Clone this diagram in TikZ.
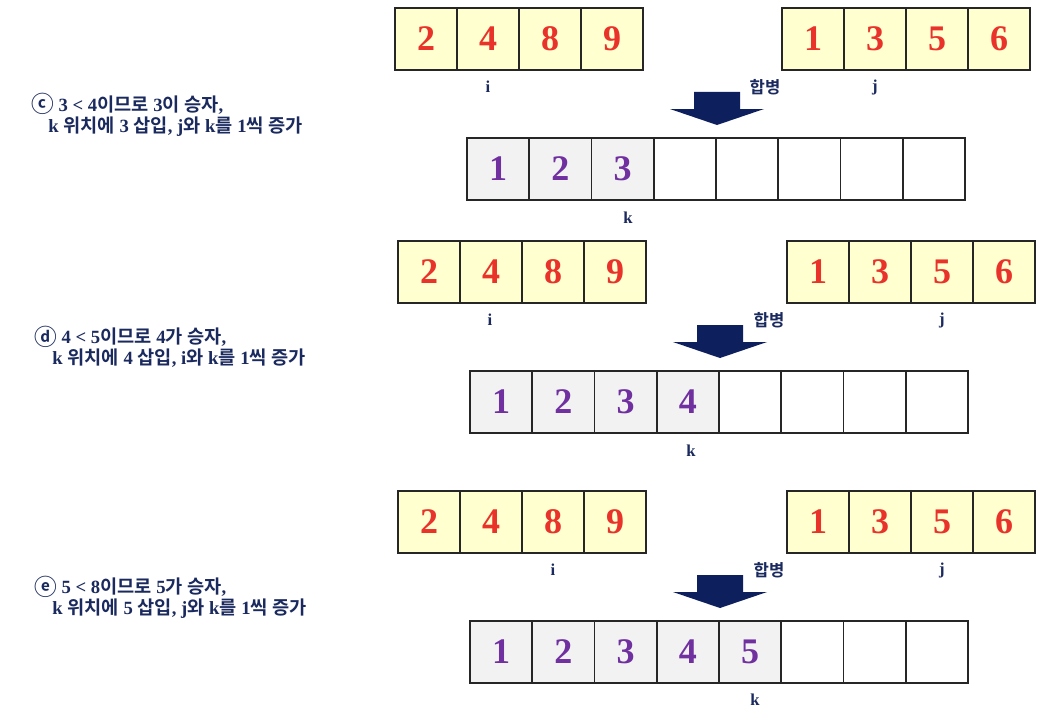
\documentclass[tikz,border=0pt]{standalone}
\usepackage{fontspec}
\setmainfont{Liberation Serif}
\newfontfamily\kr{Noto Sans CJK KR}[BoldFont={Noto Sans CJK KR Bold}]
\newcommand\K[1]{{\kr\bfseries #1}}
\newcommand\C[1]{\raisebox{-1.5pt}{\kr\bfseries\fontsize{17}{17}\selectfont #1}}
\definecolor{navy}{HTML}{1B2A5E}
\definecolor{numred}{HTML}{E8322A}
\definecolor{numpurple}{HTML}{7030A0}
\definecolor{cellyellow}{HTML}{FFFFD0}
\definecolor{cellgrey}{HTML}{F2F2F2}
\definecolor{arrownavy}{HTML}{0D1F5C}
\definecolor{cellborder}{HTML}{262626}
\tikzset{
  cell/.style={draw=cellborder, line width=1.3pt, minimum height=46.5pt, inner sep=0pt, outer sep=0pt, font=\fontsize{27}{27}\selectfont\bfseries},
  topcell/.style={cell, fill=cellyellow, text=numred, minimum width=46.5pt},
  fullcell/.style={cell, fill=cellgrey, text=numpurple, minimum width=46.7pt},
  freecell/.style={cell, fill=white, minimum width=46.7pt},
  lbl/.style={text=navy, font=\fontsize{12.5}{12.5}\selectfont\bfseries, inner sep=0pt},
  note/.style={text=navy, font=\fontsize{14}{14}\selectfont\bfseries, anchor=base west, inner sep=0pt},
}
\newcommand\toprow[4]{\foreach \v [count=\n] in {#4} {\node[topcell] (#1\n) at ({#2+(\n-0.5)*62},{#3+31}) {\v};}}
\newcommand\outrow[4]{\foreach \n in {1,...,8} {\ifnum\n>#4\relax \node[freecell] (#1\n) at ({#2+(\n-0.5)*62.25},{#3+31}) {};\else \node[fullcell] (#1\n) at ({#2+(\n-0.5)*62.25},{#3+31}) {\n};\fi}}
\newcommand\mergearrow[2]{\fill[arrownavy] ({#1-23},#2) -- ({#1+23},#2) -- ({#1+23},{#2+17}) -- ({#1+47},{#2+17}) -- (#1,{#2+33}) -- ({#1-47},{#2+17}) -- ({#1-23},{#2+17}) -- cycle;}
\begin{document}
\begin{tikzpicture}[x=0.75pt,y=-0.75pt]
\useasboundingbox[fill=white] (0,0) rectangle (1056,724);
% block c
\toprow{al}{395}{8}{2,4,8,9}
\toprow{ar}{782}{8}{1,3,5,6}
\outrow{ao}{467}{138}{3}
\node[lbl] (ai) at (488,87) {i};
\node[lbl] (am) at (765,87) {\K{합병}};
\node[lbl] (aj) at (875,87) {j};
\node[lbl] (ak) at (628,218) {k};
\mergearrow{717}{92}
\node[note] (an1) at (31,111) {\C{ⓒ} 3 < 4\K{이므로} 3\K{이 승자},};
\node[note] (an2) at (48,132) {k \K{위치에} 3 \K{삽입}, j\K{와} k\K{를} 1\K{씩 증가}};
% block d
\toprow{bl}{398}{241}{2,4,8,9}
\toprow{br}{787}{241}{1,3,5,6}
\outrow{bo}{470}{371}{4}
\node[lbl] (bi) at (490,320) {i};
\node[lbl] (bm) at (769,320) {\K{합병}};
\node[lbl] (bj) at (942,320) {j};
\node[lbl] (bk) at (691,451) {k};
\mergearrow{720}{325}
\node[note] (bn1) at (34,343) {\C{ⓓ} 4 < 5\K{이므로} 4\K{가 승자},};
\node[note] (bn2) at (52,364) {k \K{위치에} 4 \K{삽입}, i\K{와} k\K{를} 1\K{씩 증가}};
% block e
\toprow{cl}{398}{491}{2,4,8,9}
\toprow{cr}{787}{491}{1,3,5,6}
\outrow{co}{470}{621}{5}
\node[lbl] (ci) at (553,570) {i};
\node[lbl] (cm) at (769,570) {\K{합병}};
\node[lbl] (cj) at (942,570) {j};
\node[lbl] (ck) at (755,700) {k};
\mergearrow{720}{575}
\node[note] (cn1) at (34,593) {\C{ⓔ} 5 < 8\K{이므로} 5\K{가 승자},};
\node[note] (cn2) at (52,614) {k \K{위치에} 5 \K{삽입}, j\K{와} k\K{를} 1\K{씩 증가}};
\end{tikzpicture}
\end{document}
